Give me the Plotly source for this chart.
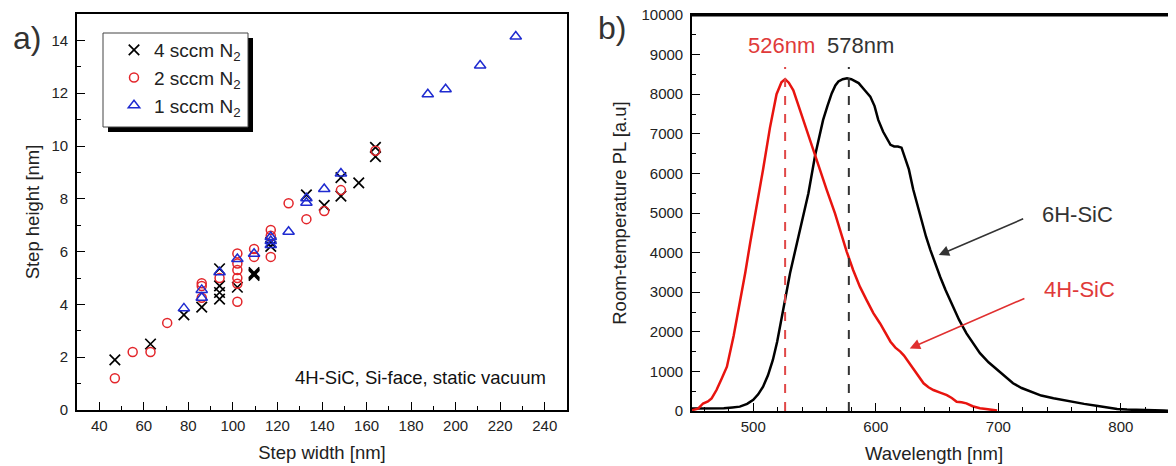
import plotly.graph_objects as go

# page body has an 8px default margin; figure sized so it fills the 1176x466 window
OX, OY = 8, 8
W, H = 1176 - OX, 466 - OY
FONT = "Liberation Sans, Arial, sans-serif"

# ---------------- panel a) data ----------------
x_4sccm = [47, 63, 78, 86, 94, 94, 94, 94, 102, 109.5, 109.5, 109.5, 117, 117,
           133, 141, 148.5, 148.5, 156.5, 164, 164]
y_4sccm = [1.9, 2.5, 3.6, 3.9, 5.35, 4.7, 4.45, 4.2, 4.65, 5.2, 5.15, 5.1, 6.2, 6.35,
           8.15, 7.75, 8.8, 8.1, 8.6, 9.95, 9.6]

x_2sccm = [47, 55, 63, 70.5, 86, 86, 86, 94, 102, 102, 102, 102, 102, 102,
           109.5, 109.5, 117, 117, 117, 125, 133, 141, 148.5, 164]
y_2sccm = [1.2, 2.2, 2.2, 3.3, 4.8, 4.7, 4.25, 5.0, 5.93, 5.55, 5.3, 5.0, 4.78, 4.1,
           6.1, 5.8, 6.82, 6.6, 5.8, 7.83, 7.23, 7.54, 8.33, 9.82]

x_1sccm = [78, 86, 86, 94, 102, 109.5, 117, 117, 117, 125, 133, 133, 141, 148.5,
           187.5, 195.5, 211, 227]
y_1sccm = [3.85, 4.55, 4.25, 5.22, 5.72, 5.92, 6.55, 6.4, 6.25, 6.75, 8.02, 7.85, 8.37, 8.96,
           11.96, 12.15, 13.05, 14.15]

series_names = ["4 sccm N<sub>2</sub>", "2 sccm N<sub>2</sub>", "1 sccm N<sub>2</sub>"]
x_ticks_a = [40, 60, 80, 100, 120, 140, 160, 180, 200, 220, 240]
y_ticks_a = [0, 2, 4, 6, 8, 10, 12, 14]

# ---------------- panel b) data ----------------
wl_4h = [450, 455, 459, 463, 466, 470, 474, 478.5, 484, 489.5, 493.5, 497.5, 503, 508,
         513.6, 519, 523, 526, 529, 532.7, 536.5, 540.8, 545.5, 550.4, 555, 560, 566.7,
         571.5, 576.3, 581.5, 587, 592.5, 598, 603.5, 608, 612, 616, 620, 623, 627, 631,
         635, 639, 643, 647, 652, 658, 662, 666, 670, 674, 679, 685, 690, 695, 699]
pl_4h = [20, 60, 190, 240, 320, 530, 800, 1120, 1900, 2800, 3500, 4250, 5200, 6100,
         7150, 8000, 8300, 8380, 8290, 8100, 7750, 7350, 6900, 6460, 6000, 5580, 4990,
         4500, 4020, 3560, 3140, 2800, 2470, 2210, 1960, 1750, 1600, 1500, 1400, 1220, 1040,
         870, 700, 600, 530, 470, 400, 330, 235, 220, 194, 120, 68, 50, 30, 10]

wl_6h = [450, 460, 470, 476, 483, 489, 495, 500, 504, 508, 512, 516, 519.5, 523, 526.5,
         530, 534, 538, 541.5, 545, 550.5, 554, 557, 560.5, 564, 567, 569.5, 573, 576.5,
         580, 586, 591, 595.5, 599, 602, 606, 609, 612, 615, 618, 621, 624, 627, 630.5,
         634, 637.5, 641, 644.5, 648, 652.5, 657, 663, 668, 674, 680, 685, 692, 699, 706,
         712, 719, 726, 735, 745, 753, 761, 770, 780, 790, 797, 805, 813, 825, 835, 845]
pl_6h = [60, 60, 60, 70, 90, 110, 180, 280, 420, 615, 900, 1290, 1750, 2380, 2900,
         3480, 4020, 4570, 5050, 5500, 6460, 6950, 7350, 7700, 8020, 8220, 8320, 8380, 8400,
         8380, 8280, 8100, 7940, 7700, 7350, 7050, 6900, 6720, 6680, 6680, 6650, 6400, 6100, 5600,
         5200, 4740, 4400, 4070, 3750, 3390, 3050, 2630, 2300, 1960, 1680, 1460, 1230, 1040, 850,
         700, 580, 490, 390, 320, 270, 235, 180, 134, 90, 50, 35, 25, 15, 10, 5]

peak_wl = [526, 578]
peak_labels = ["526nm", "578nm"]
peak_line_top = 8690
x_ticks_b = [500, 600, 700, 800]
y_ticks_b = [0, 1000, 2000, 3000, 4000, 5000, 6000, 7000, 8000, 9000, 10000]

RED = "#e3262b"
RED_TXT = "#e03a3a"
BLUE = "#1f2bd0"
GRAY = "#333333"


def px(x):
    return (x - OX) / W


def py(y):
    return 1 - (y - OY) / H


fig = go.Figure()

# panel a traces
fig.add_trace(go.Scatter(x=x_4sccm, y=y_4sccm, mode="markers", name=series_names[0],
                         marker=dict(symbol="x-thin-open", size=10.5, color="black",
                                     line=dict(width=1.7, color="black")),
                         xaxis="x", yaxis="y"))
fig.add_trace(go.Scatter(x=x_2sccm, y=y_2sccm, mode="markers", name=series_names[1],
                         marker=dict(symbol="circle-open", size=9, color=RED,
                                     line=dict(width=1.5, color=RED)),
                         xaxis="x", yaxis="y"))
fig.add_trace(go.Scatter(x=x_1sccm, y=y_1sccm, mode="markers", name=series_names[2],
                         marker=dict(symbol="triangle-up-open", size=10, color=BLUE,
                                     line=dict(width=1.5, color=BLUE)),
                         xaxis="x", yaxis="y"))

# panel b traces
fig.add_trace(go.Scatter(x=wl_6h, y=pl_6h, mode="lines", name="6H-SiC", showlegend=False,
                         line=dict(color="black", width=2.5), xaxis="x2", yaxis="y2"))
fig.add_trace(go.Scatter(x=wl_4h, y=pl_4h, mode="lines", name="4H-SiC", showlegend=False,
                         line=dict(color="#e8140f", width=2.5), xaxis="x2", yaxis="y2"))

axis_common = dict(showline=True, linecolor="black", linewidth=1.6, ticks="inside",
                   ticklen=8, tickwidth=1.4, tickcolor="black", showgrid=False,
                   zeroline=False, tickfont=dict(family=FONT, size=15, color="#222"),
                   automargin=False, tickformat="d", ticklabeloverflow="allow")

fig.update_layout(
    width=W, height=H,
    margin=dict(l=0, r=0, t=0, b=0, autoexpand=False),
    paper_bgcolor="white", plot_bgcolor="white",
    font=dict(family=FONT, color="#222"),
    xaxis=dict(domain=[px(77), px(567)], range=[30, 250], tickvals=x_ticks_a,
               mirror=True, anchor="y", ticklabelstandoff=1,
               minor=dict(dtick=10, tick0=0, ticks="inside", ticklen=4, tickwidth=1.2,
                          tickcolor="black", showgrid=False),
               title=dict(text="Step width [nm]", font=dict(family=FONT, size=18.5, color="#222"),
                          standoff=13),
               **axis_common),
    yaxis=dict(domain=[py(410), py(14)], range=[0, 15], tickvals=y_ticks_a,
               mirror=True, anchor="x", ticklabelstandoff=4,
               minor=dict(dtick=1, tick0=0, ticks="inside", ticklen=4, tickwidth=1.2,
                          tickcolor="black", showgrid=False),
               title=dict(text="Step height [nm]", font=dict(family=FONT, size=18.5, color="#222"),
                          standoff=7),
               **axis_common),
    xaxis2=dict(domain=[px(692), 1.0], range=[450, 845], tickvals=x_ticks_b,
                mirror=True, anchor="y2", ticklabelstandoff=1,
                minor=dict(dtick=20, tick0=0, ticks="inside", ticklen=4, tickwidth=1.2,
                           tickcolor="black", showgrid=False),
                title=dict(text="Wavelength [nm]", font=dict(family=FONT, size=18.5, color="#222"),
                           standoff=13),
                **axis_common),
    yaxis2=dict(domain=[py(411), py(15)], range=[0, 10000], tickvals=y_ticks_b,
                mirror=False, anchor="x2", ticklabelstandoff=4,
                minor=dict(dtick=500, tick0=0, ticks="inside", ticklen=4, tickwidth=1.2,
                           tickcolor="black", showgrid=False),
                title=dict(text="Room-temperature PL [a.u]",
                           font=dict(family=FONT, size=18.5, color="#222"), standoff=10),
                **axis_common),
    legend=dict(x=px(114), y=py(31), xanchor="left", yanchor="top",
                bgcolor="rgba(0,0,0,0)", borderwidth=0,
                font=dict(family=FONT, size=19, color="#222"),
                itemwidth=30, tracegroupgap=0),
    showlegend=True,
)

shapes = [
    # legend shadow and box
    dict(type="rect", xref="paper", yref="paper", x0=px(108), x1=px(253), y0=py(132), y1=py(38),
         fillcolor="black", line=dict(width=0)),
    dict(type="rect", xref="paper", yref="paper", x0=px(103), x1=px(248), y0=py(127), y1=py(33),
         fillcolor="white", line=dict(color="#444", width=1)),
    # top frame line of panel b (paper-referenced so it is never clipped)
    dict(type="line", xref="paper", yref="paper", x0=px(691), x1=1.0, y0=py(15.5), y1=py(15.5),
         line=dict(color="black", width=2), layer="above"),
]
peak_colors = ["#e04848", GRAY]
for wl, col in zip(peak_wl, peak_colors):
    shapes.append(dict(type="line", xref="x2", yref="y2", x0=wl, x1=wl, y0=0, y1=peak_line_top,
                       line=dict(color=col, width=2, dash="dash")))
fig.update_layout(shapes=shapes)


def label(text, x, y, size, color):
    return dict(text=text, x=px(x), y=py(y), xref="paper", yref="paper", showarrow=False,
                xanchor="center", yanchor="middle", font=dict(family=FONT, size=size, color=color))


annotations = [
    label("a)", 27, 38, 32, GRAY),
    label("b)", 612, 28, 32, GRAY),
    label("4H-SiC, Si-face, static vacuum", 420.5, 377, 18.5, "#111"),
    label(peak_labels[0], 781, 46, 22, RED_TXT),
    label(peak_labels[1], 860.5, 46, 22, GRAY),
    label("6H-SiC", 1077.5, 214, 22, GRAY),
    label("4H-SiC", 1079, 289, 22, RED_TXT),
    # arrows
    dict(text="", x=651.4, y=3940, xref="x2", yref="y2", ax=721.5, ay=4870, axref="x2", ayref="y2",
         showarrow=True, arrowhead=2, arrowsize=1.3, arrowwidth=1.6, arrowcolor=GRAY),
    dict(text="", x=627.7, y=1580, xref="x2", yref="y2", ax=722.5, ay=2860, axref="x2", ayref="y2",
         showarrow=True, arrowhead=2, arrowsize=1.3, arrowwidth=1.6, arrowcolor="#e03030"),
]
fig.update_layout(annotations=annotations)

fig.write_html("out.html")
